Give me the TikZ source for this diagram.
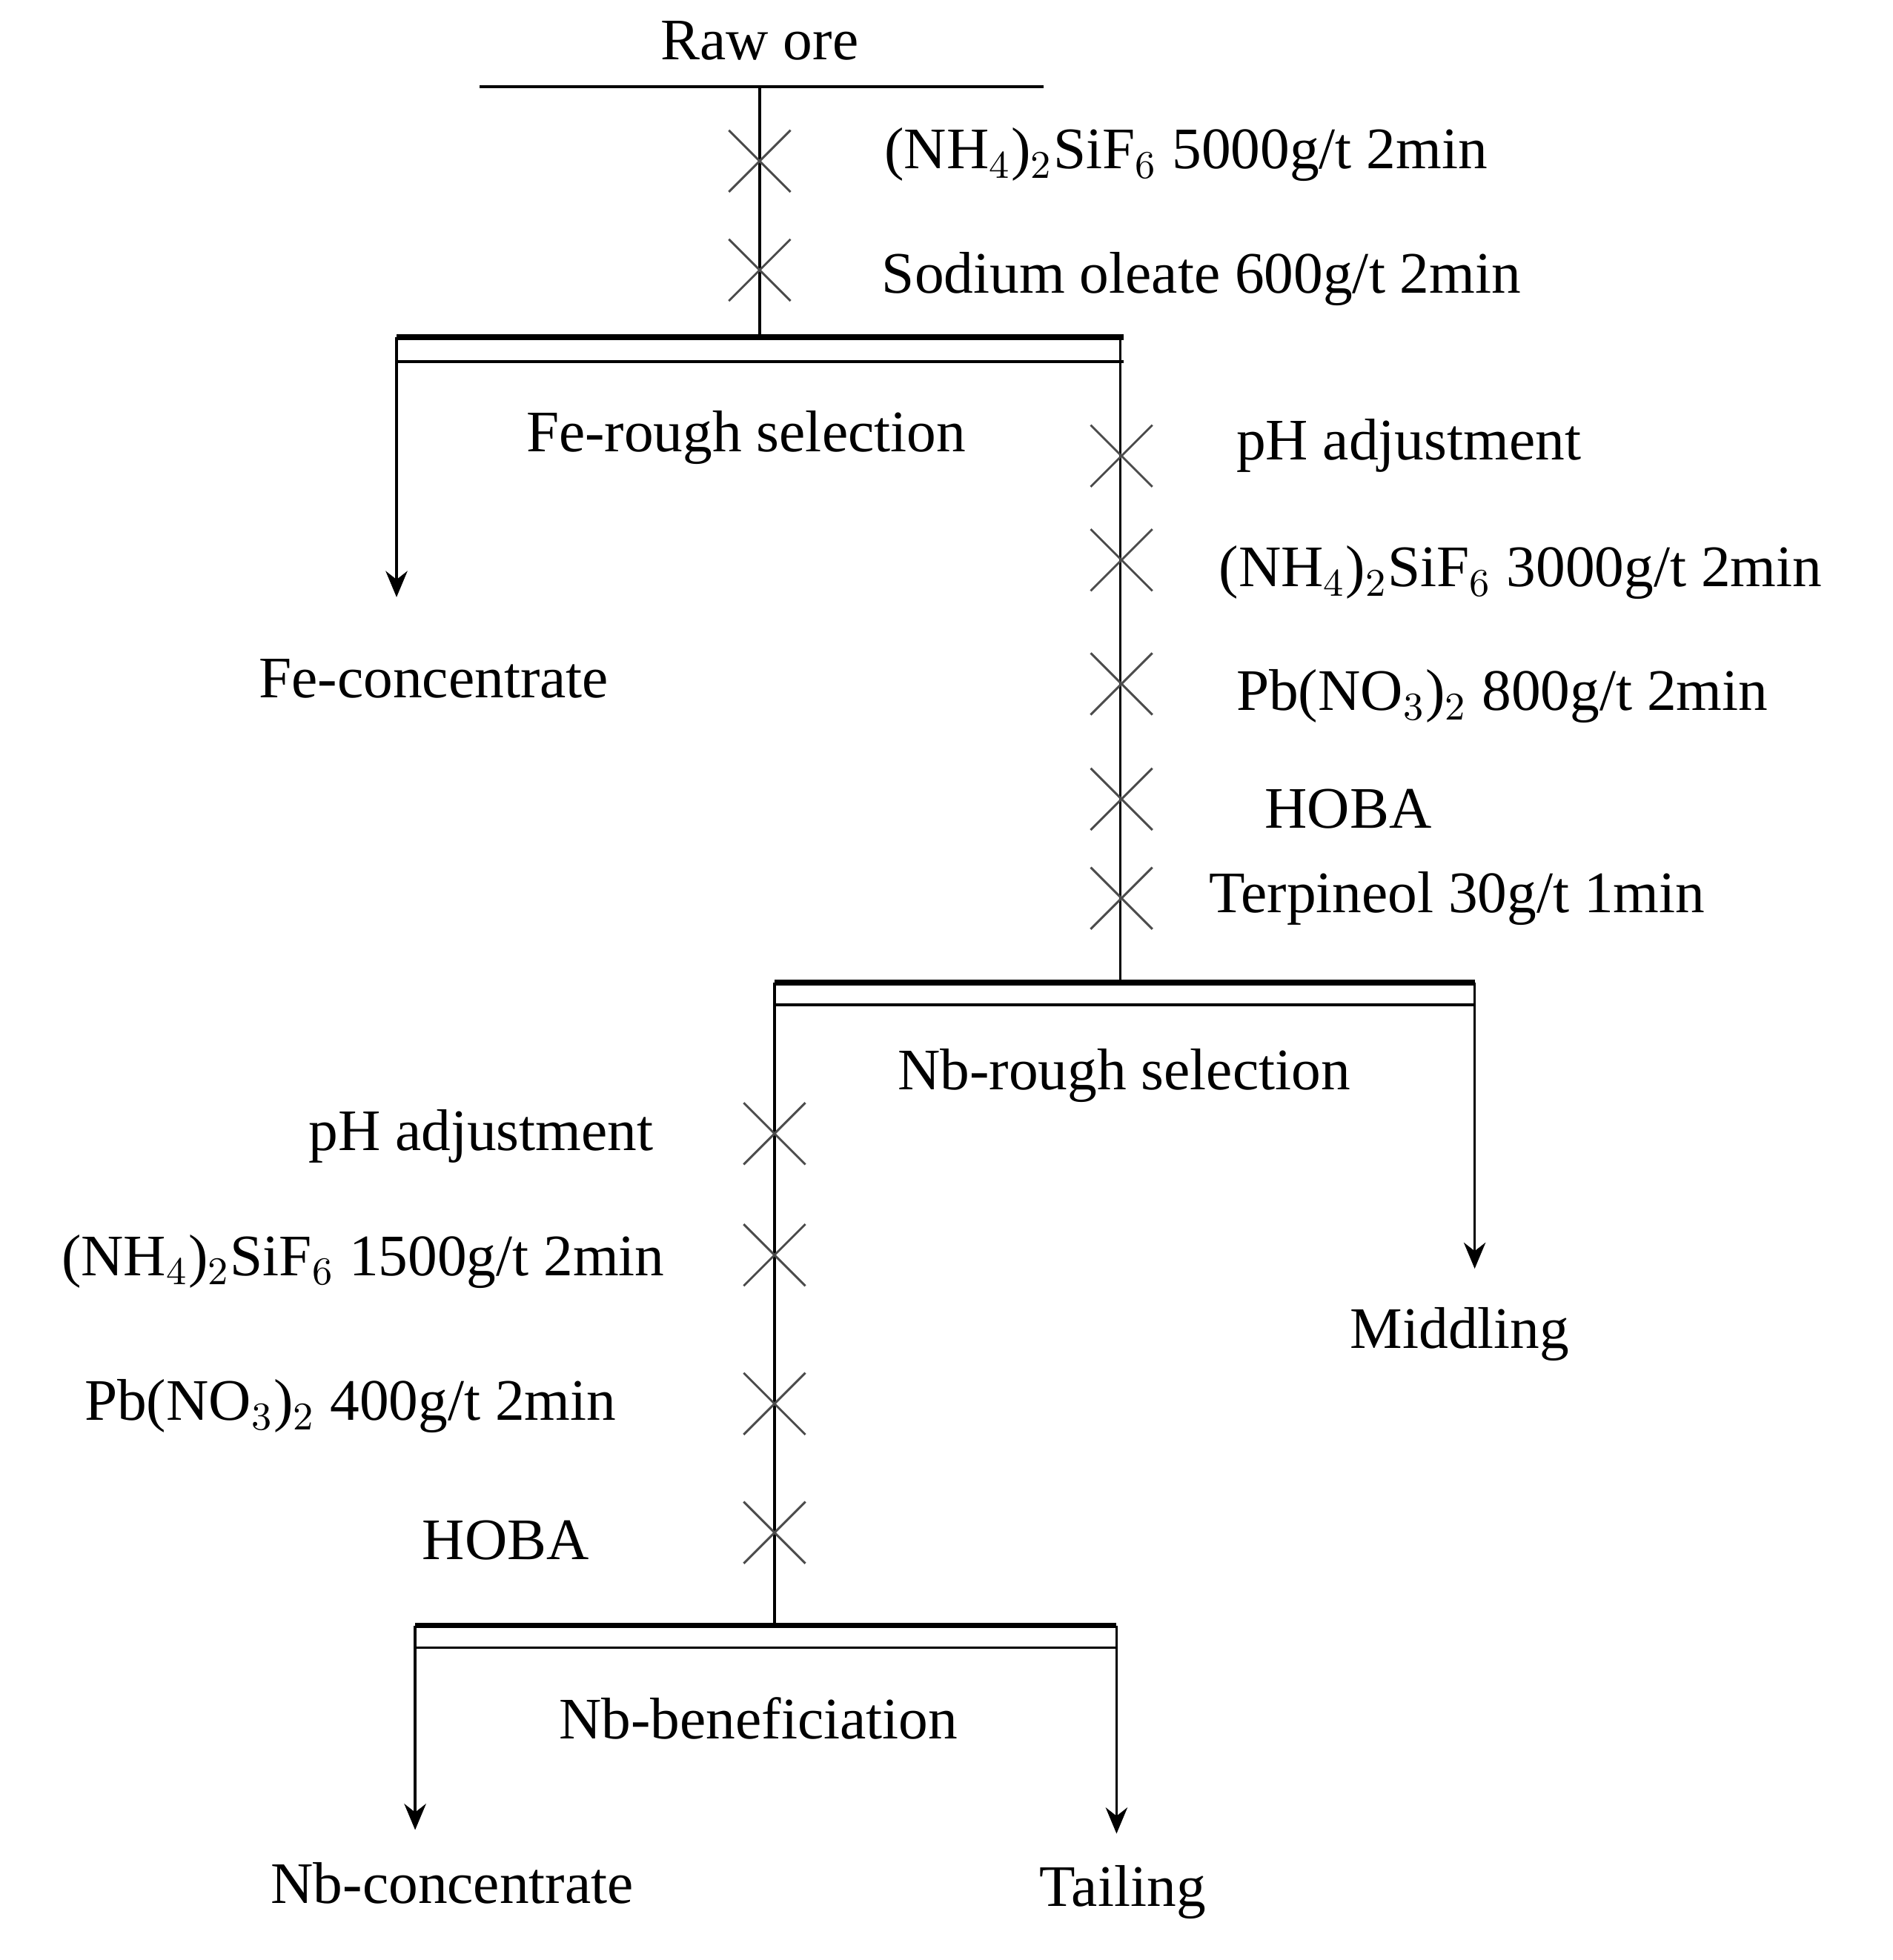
\documentclass[tikz,border=0pt]{standalone}
\usepackage{fontspec}
\setmainfont{Liberation Serif}
\usetikzlibrary{shapes.misc,arrows.meta}
\begin{document}
\begin{tikzpicture}[x=0.01cm,y=-0.01cm,
  lbl/.style={font=\fontsize{13.5}{16}\selectfont,inner sep=0pt},
  cr/.style={cross out,draw,minimum size=0.48cm,inner sep=0pt,line width=0.5pt,gray!60!black},
  thin/.style={line width=0.6pt},
  thick/.style={line width=1.3pt},
  arr/.style={thin,-{Stealth[length=6pt,width=5pt]}}]
\useasboundingbox (0,0) rectangle (1527,1582);
% top
\node[lbl] (raw) at (613,33) {Raw ore};
\coordinate (h1) at (387,70); \coordinate (h2) at (842,70);
\draw[thin] (h1) -- (h2);
\coordinate (t0) at (613,70); \coordinate (t1) at (613,272);
\draw[thin] (t0) -- (t1);
\node[cr] (c1) at (613,130) {}; \node[cr] (c2) at (613,218) {};
\node[lbl,anchor=west] (l1) at (713,125) {(NH$_4$)$_2$SiF$_6$ 5000g/t  2min};
\node[lbl,anchor=west] (l2) at (711,225) {Sodium  oleate 600g/t  2min};
% Fe rough
\coordinate (a1) at (320,272); \coordinate (a2) at (907,272);
\coordinate (b1) at (320,292); \coordinate (b2) at (907,292);
\draw[thick] (a1) -- (a2); \draw[thin] (b1) -- (b2);
\coordinate (fe) at (320,482);
\draw[arr] (a1) -- (fe);
\coordinate (r0) at (904,272); \coordinate (r1) at (904,793);
\draw[thin] (r0) -- (r1);
\node[lbl] (fer) at (602,353) {Fe-rough  selection};
\node[lbl] (fec) at (350,548) {Fe-concentrate};
\node[cr] (d1) at (905,368) {}; \node[cr] (d2) at (905,452) {};
\node[cr] (d3) at (905,552) {}; \node[cr] (d4) at (905,645) {};
\node[cr] (d5) at (905,725) {};
\node[lbl,anchor=west] at (997,360) {pH  adjustment};
\node[lbl,anchor=west] at (983,462) {(NH$_4$)$_2$SiF$_6$ 3000g/t  2min};
\node[lbl,anchor=west] at (997,562) {Pb(NO$_3$)$_2$ 800g/t  2min};
\node[lbl,anchor=west] at (1020,653) {HOBA};
\node[lbl,anchor=west] at (975,725) {Terpineol 30g/t  1min};
% Nb rough
\coordinate (e1) at (625,793); \coordinate (e2) at (1190,793);
\coordinate (f1) at (625,811); \coordinate (f2) at (1190,811);
\draw[thick] (e1) -- (e2); \draw[thin] (f1) -- (f2);
\coordinate (mid) at (1190,1024);
\draw[arr] (e2) -- (mid);
\coordinate (g1) at (625,1312);
\draw[thin] (e1) -- (g1);
\node[lbl] at (907,868) {Nb-rough  selection};
\node[lbl] at (1178,1077) {Middling};
\node[cr] (k1) at (625,915) {}; \node[cr] (k2) at (625,1013) {};
\node[cr] (k3) at (625,1133) {}; \node[cr] (k4) at (625,1237) {};
\node[lbl,anchor=east] at (528,917) {pH  adjustment};
\node[lbl,anchor=east] at (537,1018) {(NH$_4$)$_2$SiF$_6$ 1500g/t  2min};
\node[lbl,anchor=east] at (498,1135) {Pb(NO$_3$)$_2$ 400g/t  2min};
\node[lbl,anchor=east] at (476,1243) {HOBA};
% Nb beneficiation
\coordinate (m1) at (335,1312); \coordinate (m2) at (901,1312);
\coordinate (n1) at (335,1330); \coordinate (n2) at (901,1330);
\draw[thick] (m1) -- (m2); \draw[thin] (n1) -- (n2);
\coordinate (nbc) at (335,1477); \coordinate (tl) at (901,1480);
\draw[arr] (m1) -- (nbc); \draw[arr] (m2) -- (tl);
\node[lbl] at (612,1387) {Nb-beneficiation};
\node[lbl] at (365,1520) {Nb-concentrate};
\node[lbl] at (906,1527) {Tailing};
\end{tikzpicture}
\end{document}
